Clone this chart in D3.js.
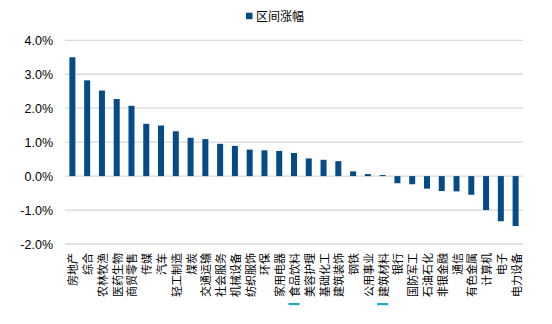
<!DOCTYPE html>
<html><head><meta charset="utf-8">
<script src="https://cdn.jsdelivr.net/npm/d3@7"></script>
<style>body{margin:0;background:#fff}svg{display:block}</style>
</head><body>
<script>
const categories = ["房地产","综合","农林牧渔","医药生物","商贸零售","传媒","汽车","轻工制造","煤炭","交通运输","社会服务","机械设备","纺织服饰","环保","家用电器","食品饮料","美容护理","基础化工","建筑装饰","钢铁","公用事业","建筑材料","银行","国防军工","石油石化","非银金融","通信","有色金属","计算机","电子","电力设备"];
const values = [3.50,2.82,2.52,2.27,2.07,1.54,1.49,1.32,1.13,1.09,0.95,0.89,0.78,0.76,0.74,0.68,0.52,0.48,0.44,0.14,0.06,0.03,-0.21,-0.24,-0.37,-0.44,-0.45,-0.55,-1.00,-1.33,-1.47];
const yTicks = [-2,-1,0,1,2,3,4];
const seriesName = "区间涨幅";
const underlined = ["食品饮料","建筑材料"];

const W = 552, H = 324;
const svg = d3.select("body").append("svg").attr("width", W).attr("height", H);
const y = d3.scaleLinear().domain([-2, 4]).range([244, 40.3]);
const color = "#064a86";

// gridlines
svg.append("g").selectAll("line").data(yTicks).join("line")
  .attr("x1", 65).attr("x2", 523)
  .attr("y1", d => y(d)).attr("y2", d => y(d))
  .attr("stroke", "#d9d9d9").attr("stroke-width", 1.3);

// y axis labels
const yAxis = d3.axisLeft(y).tickValues(yTicks).tickFormat(d => d.toFixed(1) + "%").tickSize(0).tickPadding(0);
const ga = svg.append("g").attr("transform", "translate(53,0)").call(yAxis);
ga.select(".domain").remove();
ga.selectAll("text").attr("font-family", "Liberation Sans, Arial, sans-serif").attr("font-size", 12.5).attr("fill", "#000");

// bars
const bx = d3.scaleBand().domain(categories).range([65, 523]);
const bw = 6;
svg.append("g").selectAll("rect").data(values).join("rect")
  .attr("x", (d,i) => bx(categories[i]) + bx.bandwidth()/2 - bw/2)
  .attr("width", bw)
  .attr("y", d => Math.min(y(d), y(0)))
  .attr("height", d => Math.max(0.8, Math.abs(y(d) - y(0))))
  .attr("fill", color);

// category labels rotated -90 (read bottom-to-top)
const labelFs = 11, labelTop = 253;
const lg = svg.append("g").attr("font-family", "Noto Sans CJK SC, sans-serif").attr("font-size", labelFs).attr("fill", "#000");
categories.forEach((c) => {
  const cx = bx(c) + bx.bandwidth()/2;
  lg.append("text")
    .attr("transform", `translate(${cx},${labelTop}) rotate(-90)`)
    .attr("text-anchor", "end").attr("dominant-baseline", "central")
    .text(c);
  if (underlined.includes(c)) {
    svg.append("rect").attr("x", cx - 5.5).attr("y", labelTop + Array.from(c).length*labelFs + 6)
      .attr("width", 11).attr("height", 2.2).attr("fill", "#1fa9c4");
  }
});

// legend
svg.append("rect").attr("x", 246).attr("y", 12.7).attr("width", 6.5).attr("height", 6.5).attr("fill", color);
svg.append("text").attr("x", 256).attr("y", 20.5).attr("font-family", "Noto Sans CJK SC, sans-serif")
  .attr("font-size", 12).attr("fill", "#000").text(seriesName);
</script>
</body></html>
